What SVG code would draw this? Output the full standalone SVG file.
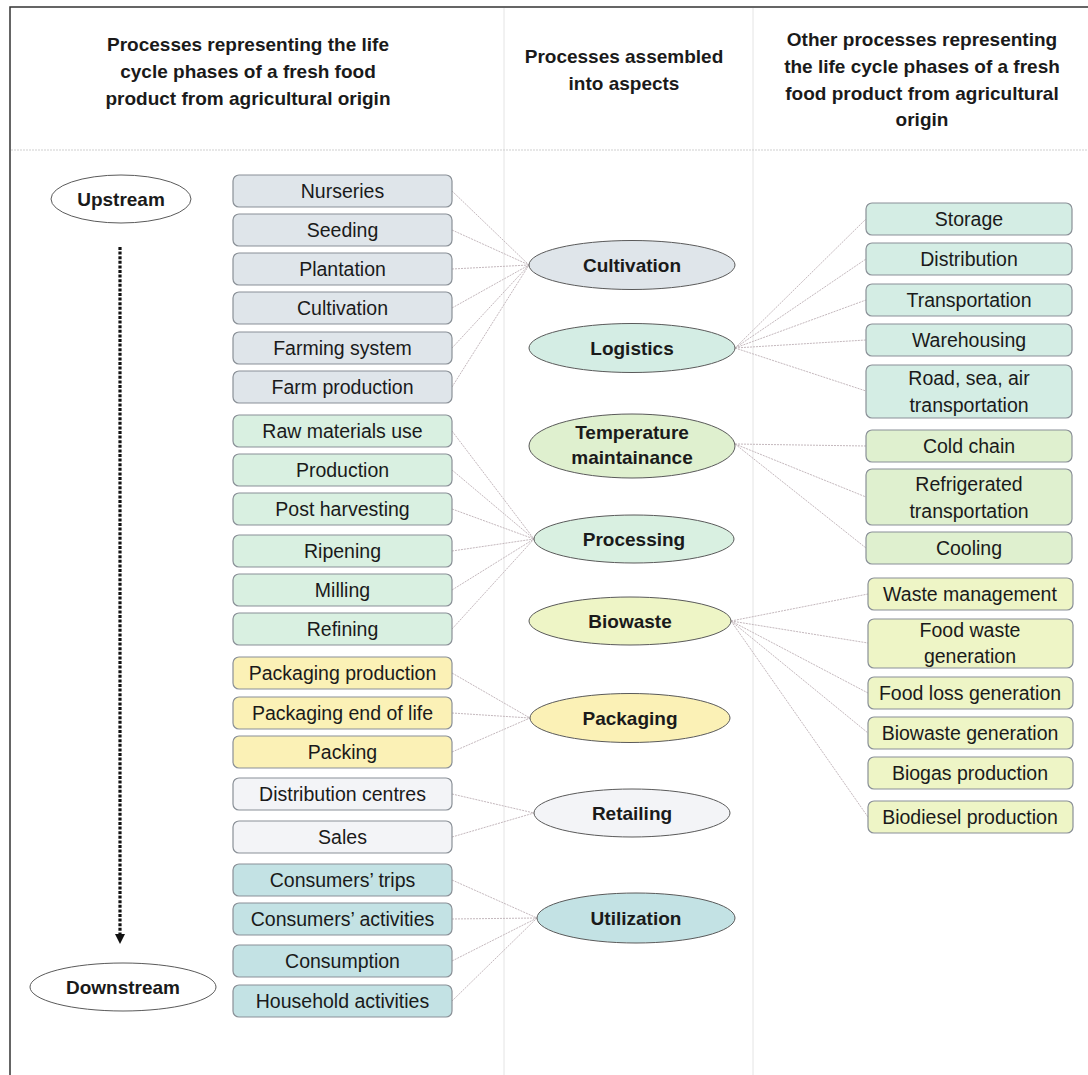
<svg xmlns="http://www.w3.org/2000/svg" width="1088" height="1075" viewBox="0 0 1088 1075">
<style>
text{font-family:"Liberation Sans",Arial,sans-serif;fill:#1a1a1a;text-anchor:middle}
.h{font-size:19px;font-weight:bold}
.t{font-size:19.5px}
.e{font-size:19px;font-weight:bold}
.b{stroke:#8a9097;stroke-width:1.2}
.el{stroke:#5a5a5a;stroke-width:1}
.gray{fill:#dfe5ea}.mint{fill:#d9f0e1}.yel{fill:#fbf1b6}.wht{fill:#f3f4f7}.teal{fill:#c3e2e4}
.lg{fill:#d4ede4}.grn{fill:#dff0cf}.yg{fill:#eef5c6}
.c line{stroke:#c4b8bd;stroke-width:1;stroke-dasharray:2 1;fill:none}
</style>
<rect width="1088" height="1075" fill="#ffffff"/>
<g id="frame">
<path d="M10,1075 V7 H1088" fill="none" stroke="#333" stroke-width="1.5"/>
<line x1="504" y1="8" x2="504" y2="1075" stroke="#e4e4e4" stroke-width="1"/>
<line x1="753" y1="8" x2="753" y2="1075" stroke="#e4e4e4" stroke-width="1"/>
<line x1="11" y1="150" x2="1088" y2="150" stroke="#cfcfcf" stroke-width="1" stroke-dasharray="2 1"/>
</g>
<g id="headers">
<text class="h" x="248" y="51">Processes representing the life</text>
<text class="h" x="248" y="78">cycle phases of a fresh food</text>
<text class="h" x="248" y="105">product from agricultural origin</text>
<text class="h" x="624" y="63">Processes assembled</text>
<text class="h" x="624" y="90">into aspects</text>
<text class="h" x="922" y="46">Other processes representing</text>
<text class="h" x="922" y="73">the life cycle phases of a fresh</text>
<text class="h" x="922" y="100">food product from agricultural</text>
<text class="h" x="922" y="126">origin</text>
</g>
<g class="c" id="connectors">
<line x1="452" y1="191" x2="529" y2="265"/><line x1="452" y1="230" x2="529" y2="265"/><line x1="452" y1="269" x2="529" y2="265"/><line x1="452" y1="308" x2="529" y2="265"/><line x1="452" y1="348" x2="529" y2="265"/><line x1="452" y1="387" x2="529" y2="265"/>
<line x1="735" y1="348" x2="866" y2="219"/><line x1="735" y1="348" x2="866" y2="259"/><line x1="735" y1="348" x2="866" y2="300"/><line x1="735" y1="348" x2="866" y2="340"/><line x1="735" y1="348" x2="866" y2="391"/>
<line x1="735" y1="444" x2="866" y2="446"/><line x1="735" y1="444" x2="866" y2="497"/><line x1="735" y1="444" x2="866" y2="548"/>
<line x1="452" y1="431" x2="534" y2="539"/><line x1="452" y1="470" x2="534" y2="539"/><line x1="452" y1="509" x2="534" y2="539"/><line x1="452" y1="551" x2="534" y2="539"/><line x1="452" y1="590" x2="534" y2="539"/><line x1="452" y1="629" x2="534" y2="539"/>
<line x1="731" y1="621" x2="868" y2="594"/><line x1="731" y1="621" x2="868" y2="643"/><line x1="731" y1="621" x2="868" y2="693"/><line x1="731" y1="621" x2="868" y2="733"/><line x1="731" y1="621" x2="868" y2="817"/>
<line x1="452" y1="673" x2="530" y2="718"/><line x1="452" y1="713" x2="530" y2="718"/><line x1="452" y1="752" x2="530" y2="718"/>
<line x1="452" y1="794" x2="534" y2="813"/><line x1="452" y1="837" x2="534" y2="813"/>
<line x1="452" y1="880" x2="537" y2="918"/><line x1="452" y1="919" x2="537" y2="918"/><line x1="452" y1="961" x2="537" y2="918"/><line x1="452" y1="1001" x2="537" y2="918"/>
</g>
<g id="flow">
<line x1="120" y1="247" x2="120" y2="934" stroke="#111" stroke-width="3.2" stroke-dasharray="3 1.6"/>
<polygon points="115,934 125,934 120,944" fill="#111"/>
</g>
<g id="upstream"><ellipse cx="121" cy="199" rx="70" ry="24" fill="#fff" class="el"/><text class="e" x="121" y="206">Upstream</text></g>
<g id="downstream"><ellipse cx="123" cy="987" rx="93" ry="24" fill="#fff" class="el"/><text class="e" x="123" y="994">Downstream</text></g>
<g id="l-nurseries"><rect class="b gray" x="233" y="175" width="219" height="32" rx="6"/><text class="t" x="342.5" y="197.5">Nurseries</text></g>
<g id="l-seeding"><rect class="b gray" x="233" y="214" width="219" height="32" rx="6"/><text class="t" x="342.5" y="236.5">Seeding</text></g>
<g id="l-plantation"><rect class="b gray" x="233" y="253" width="219" height="32" rx="6"/><text class="t" x="342.5" y="275.5">Plantation</text></g>
<g id="l-cultivation"><rect class="b gray" x="233" y="292" width="219" height="32" rx="6"/><text class="t" x="342.5" y="314.5">Cultivation</text></g>
<g id="l-farming"><rect class="b gray" x="233" y="332" width="219" height="32" rx="6"/><text class="t" x="342.5" y="354.5">Farming system</text></g>
<g id="l-farmprod"><rect class="b gray" x="233" y="371" width="219" height="32" rx="6"/><text class="t" x="342.5" y="393.5">Farm production</text></g>
<g id="l-raw"><rect class="b mint" x="233" y="415" width="219" height="32" rx="6"/><text class="t" x="342.5" y="437.5">Raw materials use</text></g>
<g id="l-production"><rect class="b mint" x="233" y="454" width="219" height="32" rx="6"/><text class="t" x="342.5" y="476.5">Production</text></g>
<g id="l-post"><rect class="b mint" x="233" y="493" width="219" height="32" rx="6"/><text class="t" x="342.5" y="515.5">Post harvesting</text></g>
<g id="l-ripening"><rect class="b mint" x="233" y="535" width="219" height="32" rx="6"/><text class="t" x="342.5" y="557.5">Ripening</text></g>
<g id="l-milling"><rect class="b mint" x="233" y="574" width="219" height="32" rx="6"/><text class="t" x="342.5" y="596.5">Milling</text></g>
<g id="l-refining"><rect class="b mint" x="233" y="613" width="219" height="32" rx="6"/><text class="t" x="342.5" y="635.5">Refining</text></g>
<g id="l-pkgprod"><rect class="b yel" x="233" y="657" width="219" height="32" rx="6"/><text class="t" x="342.5" y="679.5">Packaging production</text></g>
<g id="l-pkgend"><rect class="b yel" x="233" y="697" width="219" height="32" rx="6"/><text class="t" x="342.5" y="719.5">Packaging end of life</text></g>
<g id="l-packing"><rect class="b yel" x="233" y="736" width="219" height="32" rx="6"/><text class="t" x="342.5" y="758.5">Packing</text></g>
<g id="l-distcentres"><rect class="b wht" x="233" y="778" width="219" height="32" rx="6"/><text class="t" x="342.5" y="800.5">Distribution centres</text></g>
<g id="l-sales"><rect class="b wht" x="233" y="821" width="219" height="32" rx="6"/><text class="t" x="342.5" y="843.5">Sales</text></g>
<g id="l-trips"><rect class="b teal" x="233" y="864" width="219" height="32" rx="6"/><text class="t" x="342.5" y="886.5">Consumers’ trips</text></g>
<g id="l-activities"><rect class="b teal" x="233" y="903" width="219" height="32" rx="6"/><text class="t" x="342.5" y="925.5">Consumers’ activities</text></g>
<g id="l-consumption"><rect class="b teal" x="233" y="945" width="219" height="32" rx="6"/><text class="t" x="342.5" y="967.5">Consumption</text></g>
<g id="l-household"><rect class="b teal" x="233" y="985" width="219" height="32" rx="6"/><text class="t" x="342.5" y="1007.5">Household activities</text></g>
<g id="a-cultivation"><ellipse class="el gray" cx="632" cy="265" rx="103" ry="24.5"/><text class="e" x="632" y="272">Cultivation</text></g>
<g id="a-logistics"><ellipse class="el lg" cx="632" cy="348" rx="103" ry="24.5"/><text class="e" x="632" y="355">Logistics</text></g>
<g id="a-temperature"><ellipse class="el grn" cx="632" cy="446" rx="103" ry="32"/><text class="e" x="632" y="439">Temperature</text><text class="e" x="632" y="464">maintainance</text></g>
<g id="a-processing"><ellipse class="el mint" cx="634" cy="539" rx="100" ry="24"/><text class="e" x="634" y="546">Processing</text></g>
<g id="a-biowaste"><ellipse class="el yg" cx="630" cy="621" rx="101" ry="24"/><text class="e" x="630" y="628">Biowaste</text></g>
<g id="a-packaging"><ellipse class="el yel" cx="630" cy="718" rx="100" ry="24.5"/><text class="e" x="630" y="725">Packaging</text></g>
<g id="a-retailing"><ellipse class="el wht" cx="632" cy="813" rx="98" ry="24"/><text class="e" x="632" y="820">Retailing</text></g>
<g id="a-utilization"><ellipse class="el teal" cx="636" cy="918" rx="99" ry="25"/><text class="e" x="636" y="925">Utilization</text></g>
<g id="r-storage"><rect class="b lg" x="866" y="203" width="206" height="32" rx="6"/><text class="t" x="969" y="225.5">Storage</text></g>
<g id="r-distribution"><rect class="b lg" x="866" y="243" width="206" height="32" rx="6"/><text class="t" x="969" y="265.5">Distribution</text></g>
<g id="r-transportation"><rect class="b lg" x="866" y="284" width="206" height="32" rx="6"/><text class="t" x="969" y="306.5">Transportation</text></g>
<g id="r-warehousing"><rect class="b lg" x="866" y="324" width="206" height="32" rx="6"/><text class="t" x="969" y="346.5">Warehousing</text></g>
<g id="r-road"><rect class="b lg" x="866" y="365" width="206" height="53" rx="6"/><text class="t" x="969" y="385">Road, sea, air</text><text class="t" x="969" y="412">transportation</text></g>
<g id="r-cold"><rect class="b grn" x="866" y="430" width="206" height="32" rx="6"/><text class="t" x="969" y="452.5">Cold chain</text></g>
<g id="r-refrigerated"><rect class="b grn" x="866" y="469" width="206" height="56" rx="6"/><text class="t" x="969" y="491">Refrigerated</text><text class="t" x="969" y="518">transportation</text></g>
<g id="r-cooling"><rect class="b grn" x="866" y="532" width="206" height="32" rx="6"/><text class="t" x="969" y="554.5">Cooling</text></g>
<g id="r-waste"><rect class="b yg" x="868" y="578" width="205" height="32" rx="6"/><text class="t" x="970" y="600.5">Waste management</text></g>
<g id="r-foodwaste"><rect class="b yg" x="868" y="619" width="205" height="49" rx="6"/><text class="t" x="970" y="637">Food waste</text><text class="t" x="970" y="663">generation</text></g>
<g id="r-foodloss"><rect class="b yg" x="868" y="677" width="205" height="32" rx="6"/><text class="t" x="970" y="699.5">Food loss generation</text></g>
<g id="r-biowastegen"><rect class="b yg" x="868" y="717" width="205" height="32" rx="6"/><text class="t" x="970" y="739.5">Biowaste generation</text></g>
<g id="r-biogas"><rect class="b yg" x="868" y="757" width="205" height="32" rx="6"/><text class="t" x="970" y="779.5">Biogas production</text></g>
<g id="r-biodiesel"><rect class="b yg" x="868" y="801" width="205" height="32" rx="6"/><text class="t" x="970" y="823.5">Biodiesel production</text></g>
</svg>
